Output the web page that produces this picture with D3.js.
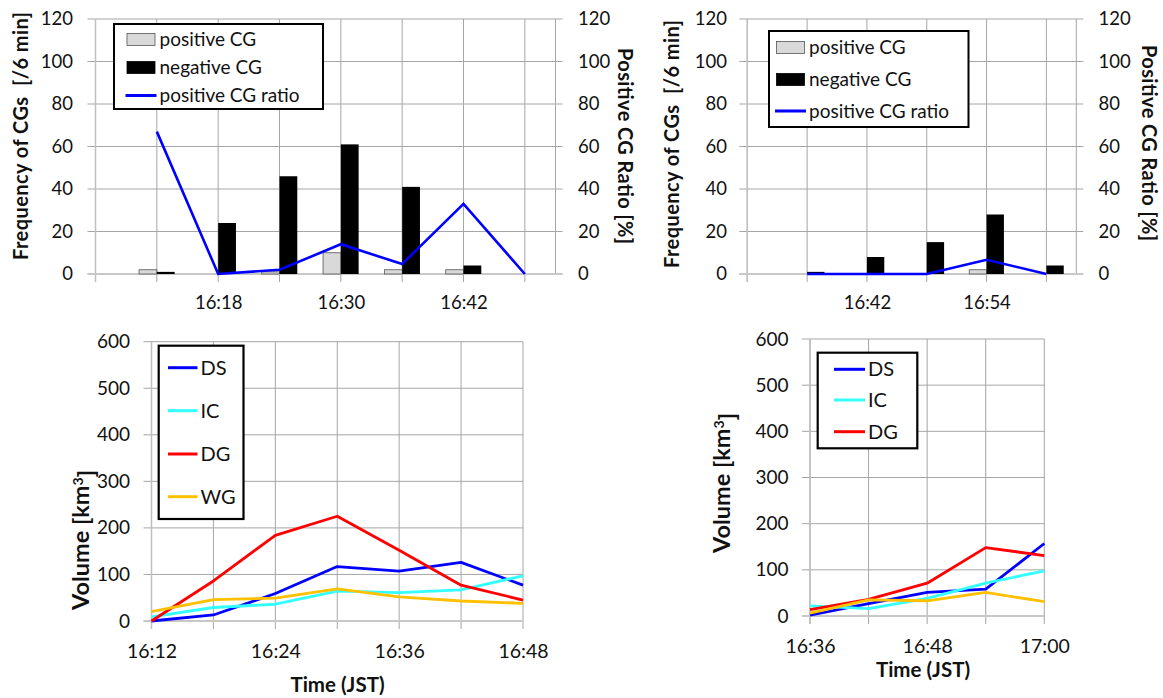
<!DOCTYPE html>
<html>
<head>
<meta charset="utf-8">
<script src="https://cdn.jsdelivr.net/npm/d3@7"></script>
<style>
  body { margin: 0; background: #fff; }
  svg { font-family: Lato, "Open Sans", sans-serif; }
</style>
</head>
<body>
<div id="chart"></div>
<script>
// CG frequency, first cell
var cgTimesA = ["16:12", "16:18", "16:24", "16:30", "16:36", "16:42", "16:48"];
var posCgA = [2, 0, 1, 10, 2, 2, 0];
var negCgA = [1, 24, 46, 61, 41, 4, 0];
var ratioA = [67, 0, 2, 14, 4.7, 33, 0];

// CG frequency, second cell
var cgTimesB = ["16:36", "16:42", "16:48", "16:54", "17:00"];
var posCgB = [0, 0, 0, 2, 0];
var negCgB = [1, 8, 15, 28, 4];
var ratioB = [0, 0, 0, 6.7, 0];

// volumes, first cell
var volTimesA = ["16:12", "16:18", "16:24", "16:30", "16:36", "16:42", "16:48"];
var dsA = [0, 13, 59, 117, 107, 126, 77];
var icA = [9, 29, 36, 64, 61, 67, 97];
var dgA = [0, 86, 184, 225, 152, 77, 45];
var wgA = [20, 46, 49, 69, 52, 43, 38];

// volumes, second cell
var volTimesB = ["16:36", "16:42", "16:48", "16:54", "17:00"];
var dsB = [2, 27, 51, 58, 157];
var icB = [22, 16, 38, 71, 98];
var dgB = [14, 36, 71, 148, 131];
var wgB = [6, 35, 33, 51, 31];

// ticks
var freqTicks = [0, 20, 40, 60, 80, 100, 120];
var volTicks = [0, 100, 200, 300, 400, 500, 600];
var xLabelsA = ["16:18", "16:30", "16:42"];
var xLabelsB = ["16:42", "16:54"];
var xLabelsC = ["16:12", "16:24", "16:36", "16:48"];
var xLabelsD = ["16:36", "16:48", "17:00"];

var seriesColors = { DS: "#0000ff", IC: "#33ffff", DG: "#ff0000", WG: "#ffc000" };
var gridColor = "#a6a6a6";

function toMin(t) {
    var p = t.split(":");
    return +p[0] * 60 + +p[1];
}

var svg = d3.select("#chart")
    .append("svg")
    .attr("width", 1163)
    .attr("height", 698);

// vertical gridlines every 6 min, horizontal gridlines at y ticks
function drawGrid(g, x, y, yTicks, opts) {
    var x0 = x.range()[0], x1 = x.range()[1];
    var y0 = y.range()[0], y1 = y.range()[1];
    var d = x.domain();
    var mins = d3.range(Math.ceil(d[0] / 6) * 6, d[1] + 0.01, 6);
    g.selectAll(".vgrid")
        .data(mins)
        .enter()
        .append("line")
        .attr("x1", function(m) { return x(m); })
        .attr("x2", function(m) { return x(m); })
        .attr("y1", y1)
        .attr("y2", y0 + 8)
        .attr("stroke", gridColor)
        .attr("stroke-width", 1);
    if (opts.rightBorder) {
        g.append("line")
            .attr("x1", x1).attr("x2", x1)
            .attr("y1", y1).attr("y2", y0)
            .attr("stroke", gridColor);
    }
    g.selectAll(".hgrid")
        .data(yTicks)
        .enter()
        .append("line")
        .attr("x1", x0 - 8)
        .attr("x2", x1 + (opts.rightTicks ? 7 : 0))
        .attr("y1", function(v) { return y(v); })
        .attr("y2", function(v) { return y(v); })
        .attr("stroke", gridColor)
        .attr("stroke-width", 1);
    // axis lines
    g.append("line")
        .attr("x1", x0).attr("x2", x0)
        .attr("y1", y1).attr("y2", y0 + 8)
        .attr("stroke", "#bfbfbf").attr("stroke-width", 1.5);
    g.append("line")
        .attr("x1", x0 - 8).attr("x2", x1 + (opts.rightTicks ? 7 : 0))
        .attr("y1", y0).attr("y2", y0)
        .attr("stroke", "#c8c8c8").attr("stroke-width", 2);
}

function yLabels(g, y, ticks, xPos, anchor, size) {
    var ax = (anchor === "end" ? d3.axisLeft(y) : d3.axisRight(y))
        .tickValues(ticks)
        .tickSize(0)
        .tickPadding(0);
    var a = g.append("g")
        .attr("transform", "translate(" + xPos + ",0)")
        .call(ax);
    a.select(".domain").remove();
    a.selectAll("text")
        .style("font-family", "Lato")
        .style("font-size", size + "px")
        .attr("fill", "#111");
}

function xLabels(g, x, labels, yPos, size) {
    var ax = d3.axisBottom(x)
        .tickValues(labels.map(toMin))
        .tickFormat(function(m) { return labels[labels.map(toMin).indexOf(m)]; })
        .tickSize(0)
        .tickPadding(0);
    var a = g.append("g")
        .attr("transform", "translate(0," + yPos + ")")
        .call(ax);
    a.select(".domain").remove();
    a.selectAll("text")
        .attr("dy", "0.35em")
        .attr("y", 0)
        .style("font-family", "Lato")
        .style("font-size", size + "px")
        .attr("fill", "#111");
}

function rotTitle(g, text, cx, cy, angle, size, len) {
    var t = g.append("text")
        .attr("transform", "translate(" + cx + "," + cy + ")rotate(" + angle + ")")
        .attr("text-anchor", "middle")
        .attr("dy", "0.35em")
        .style("font-weight", "bold")
        .style("font-size", size + "px")
        .style("white-space", "pre")
        .attr("fill", "#111")
        .text(text);
    if (len) t.attr("textLength", len).attr("lengthAdjust", "spacing");
    return t;
}

function cgPanel(cfg) {
    var g = svg.append("g");
    var x = d3.scaleLinear().domain(cfg.xDomain.map(toMin)).range(cfg.xRange);
    var y = d3.scaleLinear().domain([0, 120]).range([274, 19]);
    drawGrid(g, x, y, freqTicks, { rightBorder: true, rightTicks: true });

    var bw = 0.29 * (x(6) - x(0));
    var data = cfg.times.map(function(t, i) {
        return { m: toMin(t), pos: cfg.pos[i], neg: cfg.neg[i], ratio: cfg.ratio[i] };
    });

    g.selectAll(".posbar")
        .data(data.filter(function(d) { return d.pos > 0; }))
        .enter()
        .append("rect")
        .attr("x", function(d) { return x(d.m) - bw; })
        .attr("y", function(d) { return y(d.pos); })
        .attr("width", bw)
        .attr("height", function(d) { return y(0) - y(d.pos); })
        .attr("fill", "#d9d9d9")
        .attr("stroke", "#555")
        .attr("stroke-width", 0.8);

    g.selectAll(".negbar")
        .data(data.filter(function(d) { return d.neg > 0; }))
        .enter()
        .append("rect")
        .attr("x", function(d) { return x(d.m); })
        .attr("y", function(d) { return y(d.neg); })
        .attr("width", bw)
        .attr("height", function(d) { return y(0) - y(d.neg); })
        .attr("fill", "#000");

    var line = d3.line()
        .x(function(d) { return x(d.m); })
        .y(function(d) { return y(d.ratio); });
    g.append("path")
        .datum(data)
        .attr("d", line)
        .attr("fill", "none")
        .attr("stroke", "#0000ff")
        .attr("stroke-width", 2.6);

    yLabels(g, y, freqTicks, cfg.leftLabelX, "end", 18.5);
    yLabels(g, y, freqTicks, cfg.rightLabelX, "start", 18.5);
    xLabels(g, x, cfg.labels, 303, 18.5);
    rotTitle(g, "Frequency of CGs  [/6 min]", cfg.leftTitleX, cfg.leftTitleY, -90, 20, 248);
    rotTitle(g, "Positive CG Ratio [%]", cfg.rightTitleX, cfg.rightTitleY, 90, 20, 196);

    // legend
    var L = cfg.legend;
    var lg = g.append("g");
    lg.append("rect")
        .attr("x", L.x).attr("y", L.y).attr("width", L.w).attr("height", L.h)
        .attr("fill", "#fff").attr("stroke", "#000").attr("stroke-width", 2);
    var items = [
        { label: "positive CG", kind: "pos" },
        { label: "negative CG", kind: "neg" },
        { label: "positive CG ratio", kind: "line" }
    ];
    items.forEach(function(it, i) {
        var cy = L.rows[i];
        if (it.kind === "line") {
            lg.append("line")
                .attr("x1", L.sx).attr("x2", L.sx + 31)
                .attr("y1", cy).attr("y2", cy)
                .attr("stroke", "#0000ff").attr("stroke-width", 3);
        } else {
            lg.append("rect")
                .attr("x", L.sx + 1.5).attr("y", cy - 6).attr("width", 28).attr("height", 12)
                .attr("fill", it.kind === "pos" ? "#d9d9d9" : "#000")
                .attr("stroke", it.kind === "pos" ? "#555" : "#000")
                .attr("stroke-width", 0.8);
        }
        lg.append("text")
            .attr("x", L.sx + 34)
            .attr("y", cy)
            .attr("dy", "0.35em")
            .style("font-size", "19px")
            .attr("fill", "#111")
            .text(it.label);
    });
}

function volPanel(cfg) {
    var g = svg.append("g");
    var x = d3.scaleLinear().domain(cfg.xDomain.map(toMin)).range(cfg.xRange);
    var y = d3.scaleLinear().domain([0, 600]).range(cfg.yRange);
    drawGrid(g, x, y, volTicks, { rightBorder: false, rightTicks: false });

    var line = d3.line()
        .x(function(d) { return x(d.m); })
        .y(function(d) { return y(d.v); });

    cfg.series.forEach(function(s) {
        var pts = cfg.times.map(function(t, i) { return { m: toMin(t), v: s.values[i] }; });
        g.append("path")
            .datum(pts)
            .attr("d", line)
            .attr("fill", "none")
            .attr("stroke", seriesColors[s.name])
            .attr("stroke-width", 2.8)
            .attr("stroke-linejoin", "round");
    });

    yLabels(g, y, volTicks, cfg.leftLabelX, "end", 19);
    xLabels(g, x, cfg.labels, cfg.xLabelY, 19.5);

    var t = rotTitle(g, "", cfg.titleX, cfg.titleY, -90, 23.5);
    t.text("Volume [km");
    t.append("tspan").attr("dy", "-0.45em").style("font-size", "14px").text("3");
    t.append("tspan").attr("dy", "0.45em").text("]");

    g.append("text")
        .attr("x", cfg.timeX)
        .attr("y", cfg.timeY)
        .attr("dy", "0.35em")
        .attr("text-anchor", "middle")
        .style("font-weight", "bold")
        .style("font-size", "20.5px")
        .attr("fill", "#111")
        .text("Time (JST)");

    var L = cfg.legend;
    var lg = g.append("g");
    lg.append("rect")
        .attr("x", L.x).attr("y", L.y).attr("width", L.w).attr("height", L.h)
        .attr("fill", "#fff").attr("stroke", "#000").attr("stroke-width", 2.2);
    L.names.forEach(function(n, i) {
        var cy = L.rows[i];
        lg.append("line")
            .attr("x1", L.sx).attr("x2", L.sx + L.len)
            .attr("y1", cy).attr("y2", cy)
            .attr("stroke", seriesColors[n]).attr("stroke-width", 3);
        lg.append("text")
            .attr("x", L.sx + L.len + 3)
            .attr("y", cy)
            .attr("dy", "0.35em")
            .style("font-size", "20px")
            .attr("fill", "#111")
            .text(n);
    });
}

cgPanel({
    times: cgTimesA, pos: posCgA, neg: negCgA, ratio: ratioA,
    xDomain: ["16:06", "16:51"], xRange: [95.5, 555.5],
    labels: xLabelsA,
    leftLabelX: 73, rightLabelX: 578,
    leftTitleX: 20.5, leftTitleY: 136,
    rightTitleX: 625, rightTitleY: 146,
    legend: { x: 114, y: 24, w: 209, h: 85, sx: 125.5, rows: [39.5, 67.5, 95.5] }
});

cgPanel({
    times: cgTimesB, pos: posCgB, neg: negCgB, ratio: ratioB,
    xDomain: ["16:30", "17:03"], xRange: [747.3, 1076.3],
    labels: xLabelsB,
    leftLabelX: 727, rightLabelX: 1098.5,
    leftTitleX: 671.5, leftTitleY: 144,
    rightTitleX: 1149, rightTitleY: 143,
    legend: { x: 769, y: 31, w: 199.5, h: 96, sx: 775, rows: [47.5, 79.5, 111] }
});

volPanel({
    times: volTimesA,
    series: [
        { name: "DS", values: dsA },
        { name: "IC", values: icA },
        { name: "DG", values: dgA },
        { name: "WG", values: wgA }
    ],
    xDomain: ["16:12", "16:48"], xRange: [151.5, 523],
    yRange: [621, 341.7],
    labels: xLabelsC, xLabelY: 651.5,
    leftLabelX: 130,
    titleX: 81, titleY: 540,
    timeX: 337.5, timeY: 685,
    legend: { x: 158.7, y: 345.7, w: 84.8, h: 173.3, sx: 168, len: 29.5,
              names: ["DS", "IC", "DG", "WG"], rows: [367.7, 410.7, 454, 496.7] }
});

volPanel({
    times: volTimesB,
    series: [
        { name: "DS", values: dsB },
        { name: "IC", values: icB },
        { name: "DG", values: dgB },
        { name: "WG", values: wgB }
    ],
    xDomain: ["16:36", "17:00"], xRange: [810, 1044.3],
    yRange: [616, 339],
    labels: xLabelsD, xLabelY: 646.5,
    leftLabelX: 788.5,
    titleX: 722, titleY: 483,
    timeX: 923, timeY: 670,
    legend: { x: 817.7, y: 352.7, w: 99.6, h: 95.6, sx: 834, len: 31,
              names: ["DS", "IC", "DG"], rows: [369.3, 400, 431.7] }
});
</script>
</body>
</html>
